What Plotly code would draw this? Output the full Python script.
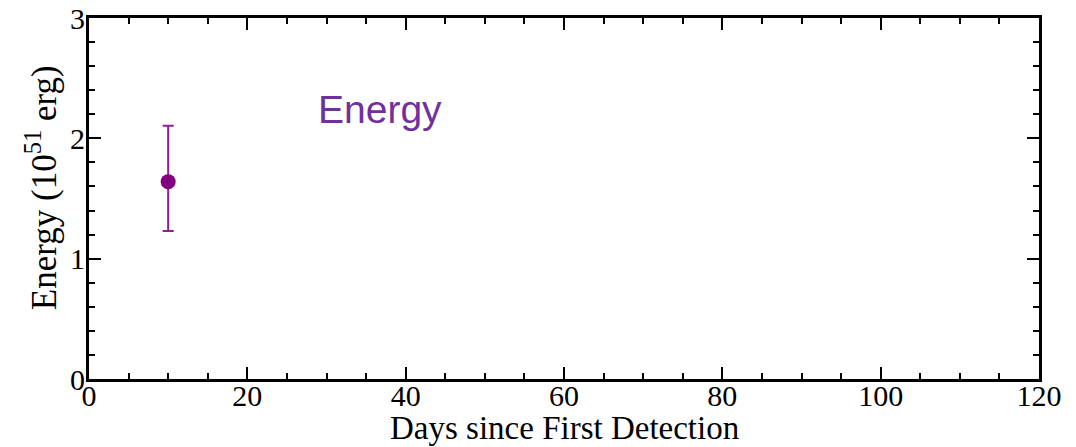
import plotly.graph_objects as go

days = [10]
energy = [1.64]
err_plus = [0.465]
err_minus = [0.41]

x_ticks = [0, 20, 40, 60, 80, 100, 120]
y_ticks = [0, 1, 2, 3]

serif = "Liberation Serif"

fig = go.Figure()
fig.add_trace(go.Scatter(
    x=days, y=energy, mode="markers",
    marker=dict(color="#800080", size=15),
    error_y=dict(type="data", symmetric=False, array=err_plus, arrayminus=err_minus,
                 color="#941c94", thickness=2, width=5.5),
    showlegend=False,
))

fig.add_annotation(x=36.8, y=2.24, text="Energy", showarrow=False,
                   font=dict(family="Liberation Sans", size=39, color="#7030A0"))

# axis titles as paper annotations
fig.add_annotation(xref="paper", yref="paper", x=0.5, y=-0.19, yanchor="bottom",
                   text="Days since First Detection", showarrow=False,
                   font=dict(family=serif, size=33, color="black"))
fig.add_annotation(xref="paper", yref="paper", x=-0.05, y=0.53, xanchor="center",
                   textangle=-90, text="Energy (10<sup>51</sup> erg)", showarrow=False,
                   font=dict(family=serif, size=35, color="black"))

axis_common = dict(
    showline=True, linecolor="black", linewidth=3, mirror="allticks",
    ticks="inside", ticklen=12, tickwidth=1.5, tickcolor="black",
    showgrid=False, zeroline=False, automargin=False,
    tickfont=dict(family=serif, size=30, color="black"),
)

fig.update_xaxes(range=[0, 120], tickvals=x_ticks, ticktext=[str(v) for v in x_ticks],
                 ticklabelstandoff=-12,
                 minor=dict(ticks="inside", ticklen=6, tickwidth=1.5, dtick=5, tick0=0, tickcolor="black"),
                 **axis_common)
fig.update_yaxes(range=[0, 3], tickvals=y_ticks, ticktext=[str(v) for v in y_ticks],
                 ticklabelstandoff=-5,
                 minor=dict(ticks="inside", ticklen=6, tickwidth=1.5, dtick=0.2, tick0=0, tickcolor="black"),
                 **axis_common)

fig.update_layout(
    width=1076, height=447,
    margin=dict(l=89, r=37, t=18, b=68),
    plot_bgcolor="white", paper_bgcolor="white",
)

fig.write_html("out.html")
